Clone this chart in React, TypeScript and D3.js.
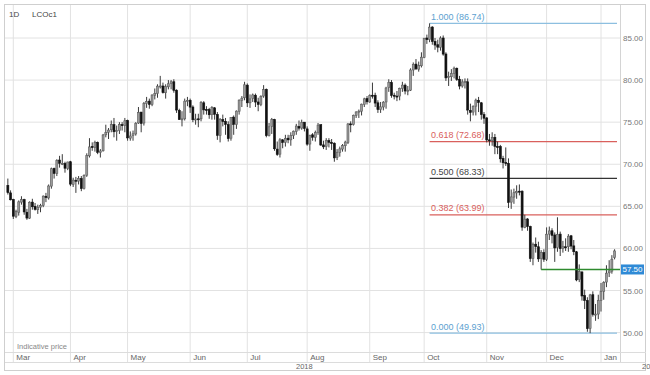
import React from "react";
import * as d3 from "d3";

// [day, open, high, low, close]
type Row = [number, number, number, number, number];

const feb18: Row[] = [
  [27, 67.5, 68.3, 66.4, 66.63], [28, 66.6, 66.9, 65.7, 65.78],
];
const mar18: Row[] = [
  [1, 65.8, 65.9, 63.5, 63.83], [2, 63.8, 64.6, 63.6, 64.37], [5, 64.3, 65.7, 63.9, 65.54],
  [6, 65.5, 66.2, 65.2, 65.79], [7, 65.8, 65.9, 64.0, 64.34], [8, 64.3, 64.7, 63.4, 63.61],
  [9, 63.6, 65.6, 63.5, 65.49], [12, 65.5, 65.9, 64.6, 64.95], [13, 65.0, 65.4, 64.5, 64.64],
  [14, 64.6, 65.2, 64.1, 64.89], [15, 64.9, 65.3, 64.3, 65.12], [16, 65.1, 66.3, 64.9, 66.21],
  [19, 66.2, 66.6, 65.5, 66.05], [20, 66.0, 67.6, 65.8, 67.42], [21, 67.4, 69.6, 67.1, 69.47],
  [22, 69.5, 69.6, 68.3, 68.91], [23, 68.9, 70.6, 68.6, 70.45], [26, 70.5, 71.0, 69.6, 70.12],
  [27, 70.1, 71.2, 69.9, 70.11], [28, 70.1, 70.3, 69.0, 69.53], [29, 69.5, 70.3, 69.3, 70.27],
];
const apr18: Row[] = [
  [2, 70.3, 70.4, 67.4, 67.64], [3, 67.6, 68.4, 67.3, 68.12], [4, 68.1, 68.5, 66.6, 68.02],
  [5, 68.0, 68.6, 67.6, 68.33], [6, 68.3, 68.6, 66.8, 67.11], [9, 67.1, 68.8, 67.0, 68.65],
  [10, 68.7, 71.3, 68.5, 71.04], [11, 71.0, 73.1, 70.8, 72.06], [12, 72.1, 72.6, 71.6, 72.02],
  [13, 72.0, 72.8, 71.5, 72.58], [16, 72.6, 72.7, 71.2, 71.42], [17, 71.4, 71.8, 70.8, 71.58],
  [18, 71.6, 73.6, 71.5, 73.48], [19, 73.5, 74.7, 73.2, 73.78], [20, 73.8, 74.3, 73.0, 74.06],
  [23, 74.1, 75.2, 73.8, 74.71], [24, 74.7, 75.5, 73.2, 73.86], [25, 73.9, 74.6, 72.8, 74.0],
  [26, 74.0, 75.0, 73.6, 74.74], [27, 74.7, 75.0, 74.0, 74.64], [30, 74.6, 75.5, 73.8, 75.17],
];
const may18: Row[] = [
  [1, 75.2, 75.3, 72.8, 73.13], [2, 73.1, 73.9, 72.8, 73.36], [3, 73.4, 74.0, 72.8, 73.62],
  [4, 73.6, 75.0, 73.4, 74.87], [7, 74.9, 76.8, 74.8, 76.17], [8, 76.2, 76.2, 73.8, 74.85],
  [9, 74.9, 77.4, 74.6, 77.21], [10, 77.2, 78.0, 76.7, 77.47], [11, 77.5, 77.8, 76.6, 77.12],
  [14, 77.1, 78.3, 76.9, 78.23], [15, 78.2, 79.0, 77.7, 78.43], [16, 78.4, 79.5, 77.9, 79.28],
  [17, 79.3, 80.5, 79.0, 79.3], [18, 79.3, 79.7, 78.4, 78.51], [21, 78.5, 79.5, 77.8, 79.22],
  [22, 79.2, 80.0, 78.9, 79.57], [23, 79.6, 80.0, 78.9, 79.8], [24, 79.8, 80.1, 78.5, 78.79],
  [25, 78.8, 78.9, 76.1, 76.44], [28, 76.4, 76.6, 75.3, 75.3], [29, 75.3, 76.3, 74.5, 75.39],
  [30, 75.4, 77.8, 75.2, 77.5], [31, 77.5, 78.0, 76.9, 77.59],
];
const jun18: Row[] = [
  [1, 77.6, 77.8, 76.1, 76.79], [4, 76.8, 77.0, 75.0, 75.29], [5, 75.3, 76.0, 74.7, 75.38],
  [6, 75.4, 76.0, 74.4, 75.36], [7, 75.4, 77.5, 75.1, 77.32], [8, 77.3, 77.5, 75.9, 76.46],
  [11, 76.5, 76.9, 75.9, 76.46], [12, 76.5, 76.7, 75.4, 75.88], [13, 75.9, 76.9, 75.3, 76.74],
  [14, 76.7, 76.8, 75.3, 75.94], [15, 75.9, 76.2, 72.9, 73.44], [18, 73.4, 75.5, 72.6, 75.34],
  [19, 75.3, 75.9, 74.5, 75.08], [20, 75.1, 75.5, 73.5, 74.74], [21, 74.7, 75.1, 72.7, 73.05],
  [22, 73.1, 75.6, 72.8, 75.55], [25, 75.6, 75.8, 73.5, 74.73], [26, 74.7, 76.4, 74.2, 76.31],
  [27, 76.3, 77.7, 75.9, 77.62], [28, 77.6, 78.1, 76.8, 77.85], [29, 77.9, 79.8, 77.6, 79.44],
];
const jul18: Row[] = [
  [2, 79.4, 79.6, 76.8, 77.3], [3, 77.3, 78.3, 76.7, 77.76], [4, 77.8, 78.4, 77.4, 78.24],
  [5, 78.2, 78.4, 76.8, 77.39], [6, 77.4, 77.9, 76.3, 77.11], [9, 77.1, 78.2, 76.9, 78.07],
  [10, 78.1, 79.4, 77.9, 78.86], [11, 78.9, 79.0, 73.2, 73.4], [12, 73.4, 74.9, 73.3, 74.45],
  [13, 74.5, 75.5, 73.6, 75.33], [16, 75.3, 75.4, 71.6, 71.84], [17, 71.8, 72.7, 71.0, 71.16],
  [18, 71.2, 73.1, 70.8, 72.9], [19, 72.9, 73.0, 71.9, 72.58], [20, 72.6, 73.5, 72.1, 73.07],
  [23, 73.1, 73.5, 72.5, 72.9], [24, 72.9, 73.8, 72.2, 73.44], [25, 73.4, 74.0, 73.0, 73.93],
  [26, 73.9, 74.8, 73.5, 74.54], [27, 74.5, 75.2, 74.0, 74.29], [30, 74.3, 75.3, 74.1, 74.97],
  [31, 75.0, 75.0, 73.9, 74.25],
];
const aug18: Row[] = [
  [1, 74.2, 74.5, 72.2, 72.39], [2, 72.4, 73.5, 71.6, 73.45], [3, 73.5, 73.7, 72.8, 73.21],
  [6, 73.2, 74.0, 72.7, 73.75], [7, 73.8, 74.9, 73.5, 74.65], [8, 74.7, 74.7, 72.2, 72.28],
  [9, 72.3, 72.8, 71.8, 72.07], [10, 72.1, 73.1, 71.7, 72.81], [13, 72.8, 73.1, 72.0, 72.61],
  [14, 72.6, 73.0, 71.7, 72.46], [15, 72.5, 72.6, 70.3, 70.76], [16, 70.8, 71.8, 70.5, 71.43],
  [17, 71.4, 72.1, 70.9, 71.83], [20, 71.8, 72.4, 71.5, 72.21], [21, 72.2, 72.8, 71.5, 72.63],
  [22, 72.6, 74.9, 72.4, 74.78], [23, 74.8, 75.1, 73.8, 74.73], [24, 74.7, 75.9, 74.6, 75.82],
  [27, 75.8, 76.3, 75.5, 76.21], [28, 76.2, 76.5, 75.5, 76.31], [29, 76.3, 77.2, 75.8, 77.14],
  [30, 77.1, 77.9, 76.8, 77.77], [31, 77.8, 78.1, 77.1, 77.42],
];
const sep18: Row[] = [
  [3, 77.4, 78.3, 77.3, 78.15], [4, 78.2, 79.7, 77.8, 78.17], [5, 78.2, 78.5, 76.8, 77.27],
  [6, 77.3, 77.6, 76.1, 76.5], [7, 76.5, 77.4, 76.1, 76.83], [10, 76.8, 77.5, 76.4, 77.37],
  [11, 77.4, 79.2, 76.6, 79.06], [12, 79.1, 80.1, 78.6, 79.74], [13, 79.7, 80.0, 77.9, 78.18],
  [14, 78.2, 78.5, 77.7, 78.09], [17, 78.1, 78.7, 77.5, 78.05], [18, 78.1, 79.1, 77.6, 79.03],
  [19, 79.0, 79.8, 78.6, 79.4], [20, 79.4, 79.6, 78.3, 78.7], [21, 78.7, 79.3, 78.2, 78.8],
  [24, 78.8, 81.4, 78.7, 81.2], [25, 81.2, 82.1, 80.5, 81.87], [26, 81.9, 82.5, 81.2, 81.34],
  [27, 81.3, 82.2, 81.0, 81.72], [28, 81.7, 83.3, 81.5, 82.72],
];
const oct18: Row[] = [
  [1, 82.7, 85.0, 82.6, 84.98], [2, 85.0, 85.4, 84.3, 84.8], [3, 84.8, 86.74, 84.5, 86.29],
  [4, 86.3, 86.4, 84.2, 84.58], [5, 84.6, 85.0, 83.6, 84.16], [8, 84.2, 84.8, 83.3, 83.91],
  [9, 83.9, 85.2, 83.5, 85.0], [10, 85.0, 85.3, 82.9, 83.09], [11, 83.1, 83.3, 79.9, 80.26],
  [12, 80.3, 81.0, 79.3, 80.43], [15, 80.4, 81.3, 79.9, 80.78], [16, 80.8, 81.6, 80.2, 81.41],
  [17, 81.4, 81.5, 79.9, 80.05], [18, 80.1, 80.5, 78.9, 79.29], [19, 79.3, 80.1, 79.1, 79.78],
  [22, 79.8, 80.2, 79.0, 79.83], [23, 79.8, 80.2, 75.9, 76.44], [24, 76.4, 77.2, 75.1, 76.17],
  [25, 76.2, 77.0, 75.8, 76.89], [26, 76.9, 77.8, 75.8, 77.62], [29, 77.6, 78.0, 76.2, 77.34],
  [30, 77.3, 77.4, 75.3, 75.91], [31, 75.9, 76.2, 74.8, 75.47],
];
const nov18: Row[] = [
  [1, 75.5, 75.6, 72.6, 72.89], [2, 72.9, 73.6, 72.2, 72.83], [5, 72.8, 73.8, 72.2, 73.17],
  [6, 73.2, 73.6, 71.2, 72.13], [7, 72.1, 72.7, 71.2, 72.07], [8, 72.1, 72.3, 70.2, 70.65],
  [9, 70.7, 71.0, 69.5, 70.18], [12, 70.2, 72.0, 69.8, 70.12], [13, 70.1, 70.7, 64.8, 65.47],
  [14, 65.5, 67.0, 64.7, 66.12], [15, 66.1, 67.1, 65.3, 66.62], [16, 66.6, 67.5, 65.9, 66.76],
  [19, 66.8, 67.6, 66.3, 66.79], [20, 66.8, 66.9, 62.1, 62.53], [21, 62.5, 64.0, 62.4, 63.48],
  [22, 63.5, 63.6, 62.1, 62.6], [23, 62.6, 62.7, 58.4, 58.8], [26, 58.8, 60.7, 58.0, 60.48],
  [27, 60.5, 61.3, 59.5, 60.21], [28, 60.2, 60.8, 58.4, 58.76], [29, 58.8, 59.8, 57.5, 59.51],
  [30, 59.5, 59.9, 58.4, 58.71],
];
const dec18: Row[] = [
  [3, 58.7, 62.5, 58.5, 61.69], [4, 61.7, 62.6, 61.0, 62.08], [5, 62.1, 62.4, 60.6, 61.56],
  [6, 61.6, 61.9, 58.4, 60.06], [7, 60.1, 63.7, 59.6, 61.67], [10, 61.7, 62.0, 59.1, 59.97],
  [11, 60.0, 60.9, 59.5, 60.2], [12, 60.2, 61.2, 59.7, 60.15], [13, 60.2, 61.7, 59.6, 61.45],
  [14, 61.5, 61.6, 59.9, 60.28], [17, 60.3, 61.0, 59.2, 59.61], [18, 59.6, 59.7, 56.1, 56.26],
  [19, 56.3, 58.1, 56.0, 57.24], [20, 57.2, 57.3, 53.8, 54.35], [21, 54.4, 55.1, 52.8, 53.82],
  [24, 53.8, 54.2, 50.1, 50.47], [26, 50.5, 54.6, 49.93, 54.47], [27, 54.5, 54.9, 51.9, 52.16],
  [28, 52.2, 53.4, 51.4, 52.2], [31, 52.2, 54.5, 51.6, 53.8],
];
const jan19: Row[] = [
  [2, 53.8, 55.9, 52.5, 54.91], [3, 54.9, 56.1, 53.9, 55.95], [4, 56.0, 58.0, 55.4, 57.06],
  [7, 57.1, 58.6, 56.6, 57.33], [8, 57.3, 59.2, 57.0, 58.72], [9, 58.9, 59.9, 58.7, 59.7],
];

const monthData: { year: number; month: number; label: string; rows: Row[] }[] = [
  { year: 2018, month: 1, label: "", rows: feb18 },
  { year: 2018, month: 2, label: "Mar", rows: mar18 },
  { year: 2018, month: 3, label: "Apr", rows: apr18 },
  { year: 2018, month: 4, label: "May", rows: may18 },
  { year: 2018, month: 5, label: "Jun", rows: jun18 },
  { year: 2018, month: 6, label: "Jul", rows: jul18 },
  { year: 2018, month: 7, label: "Aug", rows: aug18 },
  { year: 2018, month: 8, label: "Sep", rows: sep18 },
  { year: 2018, month: 9, label: "Oct", rows: oct18 },
  { year: 2018, month: 10, label: "Nov", rows: nov18 },
  { year: 2018, month: 11, label: "Dec", rows: dec18 },
  { year: 2019, month: 0, label: "Jan", rows: jan19 },
];

const priceTicks = [50, 55, 60, 65, 70, 75, 80, 85];

const fibLevels = [
  { ratio: "1.000", value: 86.74, line: "#8dbfe0", text: "#5c9fd0" },
  { ratio: "0.618", value: 72.68, line: "#d9605c", text: "#d9605c" },
  { ratio: "0.500", value: 68.33, line: "#333333", text: "#444444" },
  { ratio: "0.382", value: 63.99, line: "#d9605c", text: "#d9605c" },
  { ratio: "0.000", value: 49.93, line: "#8dbfe0", text: "#5c9fd0" },
];
const fibStart = "2018-10-03";

const supportLevel = 57.5;
const supportStart = "2018-11-29";

const yearLabels = [
  { text: "2018", x: 296 },
  { text: "2019", x: 642 },
];

const W = 650;
const H = 375;
const plotL = 5;
const plotR = 620;
const plotT = 5;
const plotB = 352;
const font = "Liberation Sans, Arial, sans-serif";

const pad = (n: number) => (n < 10 ? "0" + n : "" + n);

const candles = monthData.flatMap((m) =>
  m.rows.map(([day, o, h, l, c]) => ({
    key: `${m.year}-${pad(m.month + 1)}-${pad(day)}`,
    month: m,
    o, h, l, c,
  }))
);
candles.forEach((d, i) => ((d as any).i = i));
const idx = (key: string) => candles.findIndex((d) => d.key === key);

const x = d3
  .scaleLinear()
  .domain([idx("2018-03-01"), idx("2019-01-02")])
  .range([13.3, 601]);
const y = d3.scaleLinear().domain([50, 85]).range([332.6, 38]);

const monthStarts = monthData
  .filter((m) => m.label)
  .map((m) => ({ label: m.label, i: candles.findIndex((d) => d.month === m) }));

export default function App() {
  const bodyW = 2;
  return (
    <svg
      width={W}
      height={H}
      style={{ position: "absolute", left: 0, top: 0, background: "#fff" }}
      fontFamily={font}
    >
      <defs>
        <clipPath id="plot">
          <rect x={plotL} y={plotT} width={plotR - plotL} height={plotB - plotT} />
        </clipPath>
      </defs>

      {/* grid */}
      {priceTicks.map((t) => (
        <line key={t} x1={plotL} x2={plotR} y1={y(t)} y2={y(t)} stroke="#e2e2e2" />
      ))}
      {monthStarts.map((m) => (
        <line key={m.label} x1={x(m.i)} x2={x(m.i)} y1={plotT} y2={362} stroke="#e2e2e2" />
      ))}

      {/* frame */}
      <rect x={4.5} y={4.5} width={641} height={366} fill="none" stroke="#cfcfcf" />
      <line x1={plotR + 0.5} x2={plotR + 0.5} y1={plotT} y2={362} stroke="#d4d4d4" />
      <line x1={plotL} x2={646} y1={plotB + 0.5} y2={plotB + 0.5} stroke="#dcdcdc" />
      <line x1={plotL} x2={646} y1={362.5} y2={362.5} stroke="#dcdcdc" />

      {/* fib levels */}
      {fibLevels.map((f) => {
        const x0 = x(idx(fibStart));
        return (
          <g key={f.ratio}>
            <line x1={x0} x2={617} y1={y(f.value)} y2={y(f.value)} stroke={f.line} strokeWidth={1.2} />
            <text x={x0 + 1.5} y={y(f.value) - 3.5} fontSize={9} fill={f.text}>
              {`${f.ratio} (${f.value.toFixed(2)})`}
            </text>
          </g>
        );
      })}

      {/* candles */}
      <g clipPath="url(#plot)">
        {candles.map((d, i) => {
          const cx = x(i);
          const up = d.c >= d.o;
          const top = y(Math.max(d.o, d.c));
          const bot = y(Math.min(d.o, d.c));
          return (
            <g key={d.key}>
              <line x1={cx} x2={cx} y1={y(d.h)} y2={y(d.l)} stroke="#3a3a3a" strokeWidth={1} />
              <rect
                x={cx - bodyW / 2}
                y={top}
                width={bodyW}
                height={Math.max(1, bot - top)}
                fill={up ? "#9a9a9a" : "#111"}
                stroke={up ? "#5a5a5a" : "#111"}
                strokeWidth={0.6}
              />
            </g>
          );
        })}
      </g>

      {/* support line */}
      <line
        x1={x(idx(supportStart))}
        x2={plotR}
        y1={y(supportLevel)}
        y2={y(supportLevel)}
        stroke="#2e8a2e"
        strokeWidth={1.6}
      />

      {/* right axis labels */}
      {priceTicks.map((t) => (
        <text key={t} x={623} y={y(t) + 3} fontSize={8} fill="#777">
          {t.toFixed(2)}
        </text>
      ))}
      <rect x={621} y={y(supportLevel) - 5} width={23} height={10} fill="#2f8ad6" />
      <text x={622.5} y={y(supportLevel) + 3} fontSize={8} fill="#fff">
        {supportLevel.toFixed(2)}
      </text>

      {/* month labels */}
      {monthStarts.map((m) => (
        <text key={m.label} x={x(m.i) + 3} y={359.5} fontSize={8} fill="#666">
          {m.label}
        </text>
      ))}
      {yearLabels.map((l) => (
        <text key={l.text} x={l.x} y={369} fontSize={7.5} fill="#666">
          {l.text}
        </text>
      ))}

      <text x={17} y={349} fontSize={7.5} fill="#888">
        Indicative price
      </text>
      <text x={9} y={17} fontSize={8} fill="#444">
        1D
      </text>
      <text x={32} y={17} fontSize={8} fill="#444">
        LCOc1
      </text>
    </svg>
  );
}
